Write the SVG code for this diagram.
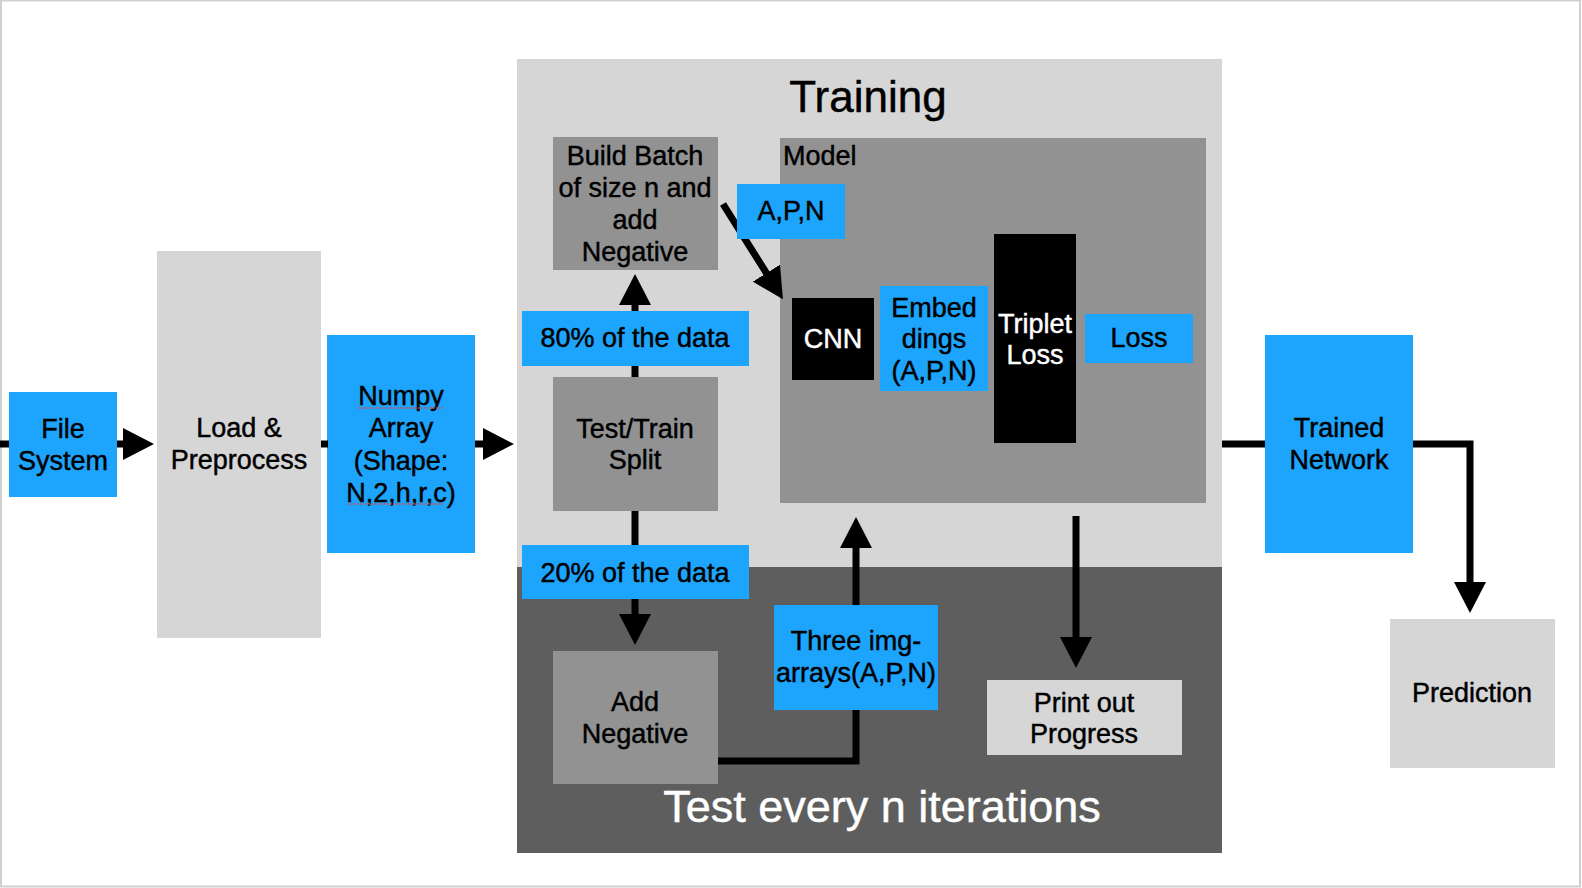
<svg xmlns="http://www.w3.org/2000/svg" width="1582" height="888" viewBox="0 0 1582 888">
<defs>
<style>
.blue{fill:#1DA4FC}
.lg{fill:#D6D6D6}
.mg{fill:#929292}
.dg{fill:#5E5E5E}
.blk{fill:#000}
text{font-family:"Liberation Sans",Arial,Helvetica,sans-serif;font-size:27px;fill:#000;stroke:#000;stroke-width:0.45;text-anchor:middle}
.w{fill:#fff;stroke:#fff}
.big{font-size:44px}
.big2{font-size:45px}
.con{fill:none;stroke:#000;stroke-width:7;stroke-linejoin:miter}
.spell{stroke:#E0453F;stroke-width:1.6;stroke-dasharray:1.5 1.5;fill:none}
</style>
<marker id="ah" markerUnits="userSpaceOnUse" markerWidth="32" markerHeight="32" refX="2" refY="16" orient="auto" viewBox="0 0 32 32">
<path d="M0,0 L31,16 L0,32 Z" fill="#000"/>
</marker>
</defs>
<rect x="0" y="0" width="1582" height="888" fill="#fff"/>
<rect x="1" y="0.5" width="1579" height="886" fill="#fff" stroke="#CFCFCF" stroke-width="2"/>

<g id="training-region">
<rect class="lg" x="517" y="59" width="705" height="508"/>
<text class="big" x="868" y="112">Training</text>
</g>
<g id="test-region">
<rect class="dg" x="517" y="567" width="705" height="286"/>
<text class="big2 w" x="882" y="822">Test every n iterations</text>
</g>
<g id="model">
<rect class="mg" x="780" y="138" width="426" height="365"/>
<text x="783" y="165" style="text-anchor:start">Model</text>
</g>

<g id="file-system">
<rect class="blue" x="9" y="392" width="108" height="105"/>
<text x="63" y="438">File</text>
<text x="63" y="470">System</text>
</g>
<g id="load-preprocess">
<rect class="lg" x="157" y="251" width="164" height="387"/>
<text x="239" y="437">Load &amp;</text>
<text x="239" y="469">Preprocess</text>
</g>
<g id="numpy-array">
<rect class="blue" x="327" y="335" width="148" height="218"/>
<text x="401" y="405">Numpy</text>
<text x="401" y="437">Array</text>
<text x="401" y="470">(Shape:</text>
<text x="401" y="502">N,2,h,r,c)</text>
<path class="spell" d="M358,408 H443 M348,504 H443"/>
</g>
<g id="build-batch">
<rect class="mg" x="553" y="137" width="165" height="133"/>
<text x="635" y="165">Build Batch</text>
<text x="635" y="197">of size n and</text>
<text x="635" y="229">add</text>
<text x="635" y="261">Negative</text>
</g>
<g id="test-train-split">
<rect class="mg" x="553" y="377" width="165" height="134"/>
<text x="635" y="438">Test/Train</text>
<text x="635" y="469">Split</text>
</g>
<g id="add-negative">
<rect class="mg" x="553" y="651" width="165" height="133"/>
<text x="635" y="711">Add</text>
<text x="635" y="743">Negative</text>
</g>
<g id="print-progress">
<rect class="lg" x="987" y="680" width="195" height="75"/>
<text x="1084" y="712">Print out</text>
<text x="1084" y="743">Progress</text>
</g>
<g id="trained-network">
<rect class="blue" x="1265" y="335" width="148" height="218"/>
<text x="1339" y="437">Trained</text>
<text x="1339" y="469">Network</text>
</g>
<g id="prediction">
<rect class="lg" x="1390" y="619" width="165" height="149"/>
<text x="1472" y="702">Prediction</text>
</g>

<g id="connectors">
<path class="con" d="M0,444 H9"/>
<path class="con" d="M117,444 H125" marker-end="url(#ah)"/>
<path class="con" d="M321,444 H328"/>
<path class="con" d="M475,444 H485" marker-end="url(#ah)"/>
<path class="con" d="M635,377 V303" marker-end="url(#ah)"/>
<path class="con" d="M635,511 V616" marker-end="url(#ah)"/>
<path class="con" d="M723,204 L767.5,274.8" marker-end="url(#ah)"/>
<path class="con" d="M718,761 H856 V546" marker-end="url(#ah)"/>
<path class="con" d="M1076,516 V639" marker-end="url(#ah)"/>
<path class="con" d="M1222,444 H1265"/>
<path class="con" d="M1413,444 H1470 V584" marker-end="url(#ah)"/>
</g>

<g id="label-80">
<rect class="blue" x="522" y="311" width="227" height="55"/>
<text x="635" y="347">80% of the data</text>
</g>
<g id="label-20">
<rect class="blue" x="522" y="545" width="227" height="54"/>
<text x="635" y="582">20% of the data</text>
</g>
<g id="label-apn">
<rect class="blue" x="737" y="184" width="108" height="55"/>
<text x="791" y="220">A,P,N</text>
</g>
<g id="label-three-img">
<rect class="blue" x="774" y="605" width="164" height="105"/>
<text x="856" y="650">Three img-</text>
<text x="856" y="682">arrays(A,P,N)</text>
</g>
<g id="cnn">
<rect class="blk" x="792" y="298" width="82" height="82"/>
<text class="w" x="833" y="348">CNN</text>
</g>
<g id="embeddings">
<rect class="blue" x="880" y="286" width="108" height="105"/>
<text x="934" y="317">Embed</text>
<text x="934" y="348">dings</text>
<text x="934" y="380">(A,P,N)</text>
</g>
<g id="triplet-loss">
<rect class="blk" x="994" y="234" width="82" height="209"/>
<text class="w" x="1035" y="333">Triplet</text>
<text class="w" x="1035" y="364">Loss</text>
</g>
<g id="loss">
<rect class="blue" x="1085" y="314" width="108" height="49"/>
<text x="1139" y="347">Loss</text>
</g>
</svg>
